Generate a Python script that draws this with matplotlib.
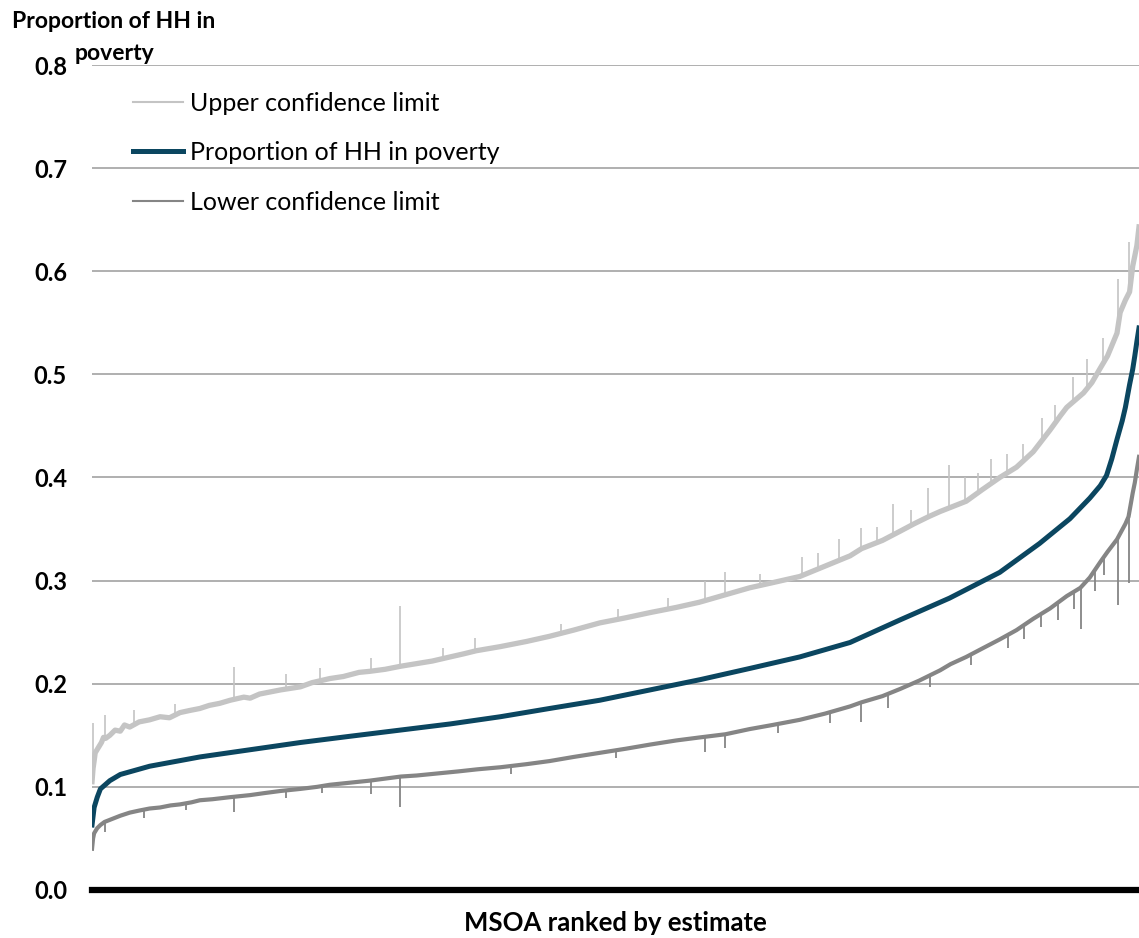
import numpy as np
import matplotlib
matplotlib.use("Agg")
import matplotlib.pyplot as plt

plt.rcParams["font.family"] = ["Lato", "DejaVu Sans"]

# (rank percentile, proportion) pairs; rank 0 = lowest estimate
estimate = [
    (0.0, 0.063), (0.2, 0.080), (0.5, 0.090), (0.8, 0.098), (1.7, 0.106),
    (2.7, 0.112), (5.5, 0.120), (10.3, 0.129), (15.1, 0.136), (19.9, 0.143),
    (24.6, 0.149), (29.4, 0.155), (34.2, 0.161), (39.0, 0.168), (43.7, 0.176),
    (48.5, 0.184), (53.3, 0.194), (58.1, 0.204), (62.9, 0.215), (67.6, 0.226),
    (72.4, 0.240), (77.2, 0.262), (81.9, 0.283), (86.7, 0.308), (90.5, 0.336),
    (93.4, 0.360), (95.3, 0.380), (96.3, 0.392), (96.9, 0.402), (97.4, 0.418),
    (97.9, 0.437), (98.4, 0.455), (98.7, 0.468), (99.1, 0.490), (99.4, 0.505),
    (99.6, 0.518), (99.8, 0.532), (100.0, 0.545),
]

upper = [
    (0.0, 0.105), (0.1, 0.118), (0.2, 0.125), (0.3, 0.133), (0.6, 0.138),
    (0.9, 0.143), (1.1, 0.148), (1.3, 0.147), (1.7, 0.150), (2.2, 0.155),
    (2.7, 0.154), (3.1, 0.160), (3.6, 0.158), (4.5, 0.163), (5.5, 0.165),
    (6.5, 0.168), (7.4, 0.167), (8.4, 0.172), (9.3, 0.174), (10.3, 0.176),
    (11.2, 0.179), (12.2, 0.181), (13.2, 0.184), (14.5, 0.187), (15.1, 0.186),
    (16.0, 0.190), (17.0, 0.192), (18.0, 0.194), (19.9, 0.197), (21.0, 0.201),
    (22.7, 0.205), (24.0, 0.207), (25.5, 0.211), (26.5, 0.212), (28.0, 0.214),
    (29.5, 0.217), (30.7, 0.219), (32.5, 0.222), (34.2, 0.226), (35.5, 0.229),
    (36.7, 0.232), (39.0, 0.236), (41.5, 0.241), (43.7, 0.246), (46.0, 0.252),
    (48.5, 0.259), (51.0, 0.264), (53.3, 0.269), (55.8, 0.274), (58.0, 0.279),
    (60.4, 0.286), (62.8, 0.293), (65.0, 0.298), (67.6, 0.304), (70.0, 0.314),
    (72.4, 0.324), (73.5, 0.331), (75.5, 0.339), (77.2, 0.348), (78.5, 0.355),
    (79.9, 0.362), (81.0, 0.367), (82.0, 0.371), (83.5, 0.377), (85.0, 0.388),
    (86.7, 0.400), (88.3, 0.410), (89.9, 0.425), (91.5, 0.446), (92.5, 0.460),
    (93.1, 0.468), (94.7, 0.482), (95.5, 0.492), (96.3, 0.506), (97.0, 0.518),
    (97.9, 0.540), (98.2, 0.560), (98.7, 0.572), (99.1, 0.580), (99.4, 0.605),
    (99.6, 0.615), (99.8, 0.625), (100.0, 0.643),
]
# single MSOAs whose upper limit sticks out above the band
upper_spikes = [
    (0.05, 0.162), (1.2, 0.170), (4.0, 0.175), (7.9, 0.180), (13.6, 0.216),
    (18.5, 0.209), (21.8, 0.215), (26.6, 0.225), (29.4, 0.275), (33.5, 0.235),
    (36.6, 0.244), (44.8, 0.258), (50.2, 0.272), (55.0, 0.283), (58.5, 0.300),
    (60.5, 0.308), (63.8, 0.306), (67.8, 0.323), (69.3, 0.327), (71.3, 0.340),
    (73.4, 0.351), (75.0, 0.352), (76.5, 0.374), (78.2, 0.368), (79.8, 0.390),
    (81.9, 0.412), (83.4, 0.400), (84.6, 0.404), (85.9, 0.418), (87.4, 0.423),
    (88.9, 0.432), (90.7, 0.458), (92.0, 0.470), (93.7, 0.497), (95.0, 0.515),
    (96.6, 0.535), (97.95, 0.592), (99.0, 0.628),
]

lower = [
    (0.0, 0.040), (0.1, 0.050), (0.2, 0.055), (0.5, 0.060), (0.8, 0.063),
    (1.2, 0.066), (1.7, 0.068), (2.7, 0.072), (3.6, 0.075), (4.5, 0.077),
    (5.5, 0.079), (6.5, 0.080), (7.5, 0.082), (8.4, 0.083), (9.5, 0.085),
    (10.3, 0.087), (11.5, 0.088), (13.2, 0.090), (15.1, 0.092), (16.5, 0.094),
    (18.0, 0.096), (19.9, 0.098), (21.5, 0.100), (22.7, 0.102), (24.6, 0.104),
    (26.5, 0.106), (28.0, 0.108), (29.5, 0.110), (31.0, 0.111), (33.0, 0.113),
    (35.0, 0.115), (36.8, 0.117), (39.0, 0.119), (41.5, 0.122), (43.7, 0.125),
    (46.0, 0.129), (48.5, 0.133), (51.0, 0.137), (53.3, 0.141), (55.8, 0.145),
    (58.1, 0.148), (60.5, 0.151), (62.8, 0.156), (65.0, 0.160), (67.6, 0.165),
    (70.0, 0.171), (72.4, 0.178), (73.5, 0.182), (75.5, 0.188), (77.2, 0.195),
    (79.0, 0.203), (81.0, 0.213), (82.0, 0.219), (83.5, 0.226), (85.0, 0.234),
    (86.7, 0.243), (88.3, 0.252), (89.9, 0.263), (91.5, 0.273), (93.1, 0.285),
    (94.4, 0.293), (95.3, 0.303), (96.3, 0.318), (97.0, 0.328), (97.9, 0.340),
    (98.7, 0.355), (99.0, 0.362), (99.4, 0.385), (99.6, 0.395), (99.8, 0.408),
    (100.0, 0.420),
]
# single MSOAs whose lower limit drops below the band
lower_spikes = [
    (1.25, 0.056), (5.0, 0.070), (9.0, 0.078), (13.6, 0.076), (18.5, 0.089),
    (22.0, 0.094), (26.6, 0.093), (29.4, 0.080), (40.0, 0.112), (50.0, 0.128),
    (58.5, 0.134), (60.5, 0.138), (65.5, 0.152), (70.5, 0.162), (73.4, 0.163),
    (76.0, 0.176), (80.0, 0.197), (84.0, 0.218), (87.5, 0.235), (89.0, 0.243),
    (90.6, 0.255), (92.3, 0.262), (93.8, 0.272), (94.45, 0.253), (95.8, 0.290),
    (96.7, 0.305), (97.95, 0.276), (99.05, 0.298),
]

y_ticks = [0.0, 0.1, 0.2, 0.3, 0.4, 0.5, 0.6, 0.7, 0.8]
y_title = ["Proportion of HH in", "poverty"]

UPPER_C = "#c4c4c4"
LOWER_C = "#858585"

fig = plt.figure(figsize=(11.39, 9.38), dpi=100)
ax = fig.add_axes([0.0808, 0.0512, 0.9192, 0.8795])

ux, uy = zip(*upper)
sx, sy = zip(*upper_spikes)
ax.vlines(sx, np.interp(sx, ux, uy), sy, color=UPPER_C, lw=1.2, zorder=3)
ax.plot(ux, uy, color=UPPER_C, lw=3.8, label="Upper confidence limit",
        zorder=3)

ax.plot(*zip(*estimate), color="#0b4660", lw=3.6,
        label="Proportion of HH in poverty", zorder=4)

lx, ly = zip(*lower)
sx, sy = zip(*lower_spikes)
ax.vlines(sx, sy, np.interp(sx, lx, ly), color=LOWER_C, lw=1.3, zorder=3)
ax.plot(lx, ly, color=LOWER_C, lw=3.0, label="Lower confidence limit",
        zorder=3)

ax.set_xlim(0, 100)
ax.set_ylim(0, 0.8)
ax.set_yticks(y_ticks)
ax.set_yticklabels([f"{t:.1f}" for t in y_ticks], fontsize=17,
                   fontweight="bold")
ax.tick_params(axis="y", length=0, pad=18)
ax.set_xticks([])
for s in ax.spines.values():
    s.set_visible(False)

for t in y_ticks[1:]:
    ax.axhline(t, color="#9a9a9a", lw=1.1, zorder=1)
ax.axhline(0, color="black", lw=4.5, zorder=2, clip_on=False)

leg = ax.legend(loc="upper left", bbox_to_anchor=(0.0296, 0.98),
                frameon=False, fontsize=18, handlelength=2.0,
                handletextpad=0.28, labelspacing=1.06, borderaxespad=0)
leg.get_lines()[0].set_linewidth(1.5)
leg.get_lines()[2].set_linewidth(1.5)

# axis title sits above the tick labels, one line per text
for line, base_px in zip(y_title, (28, 60)):
    fig.text(114 / 1139, 1 - base_px / 938, line, ha="center",
             va="baseline", fontsize=16.5, fontweight="bold")
ax.set_xlabel("MSOA ranked by estimate", fontsize=18.5, fontweight="bold",
              labelpad=15)

fig.savefig("out.png", dpi=100)
